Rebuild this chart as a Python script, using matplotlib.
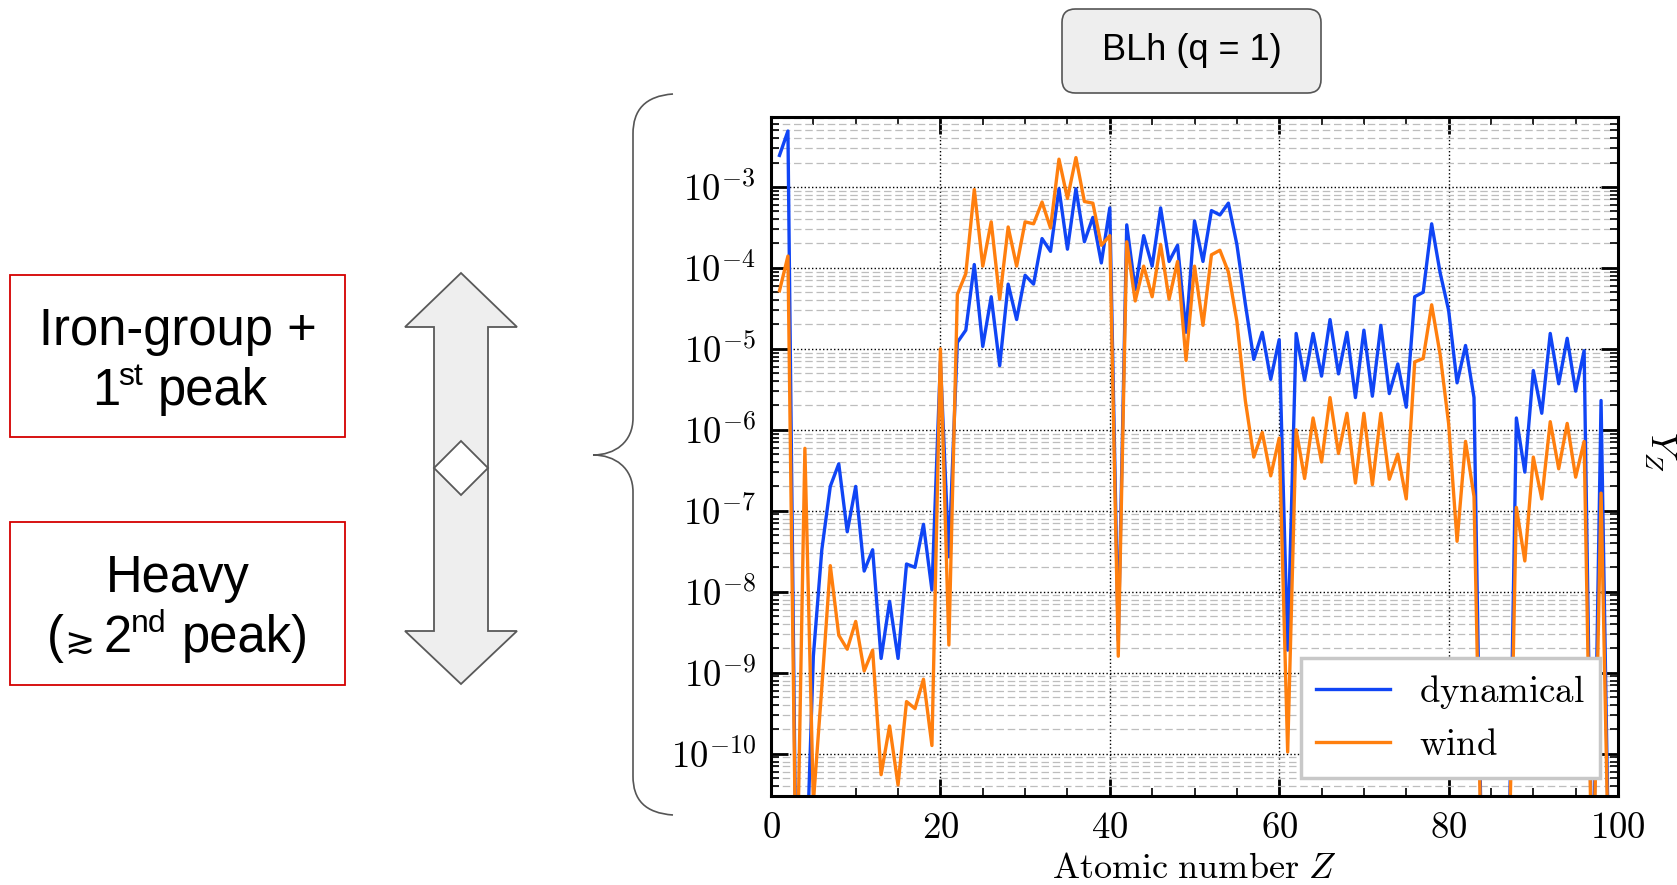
import numpy as np
import matplotlib
matplotlib.use("Agg")
import matplotlib.pyplot as plt
from matplotlib.patches import FancyBboxPatch, Polygon, Rectangle, PathPatch
from matplotlib.path import Path
from matplotlib.ticker import MultipleLocator, LogLocator, FuncFormatter, NullFormatter

plt.rcParams['mathtext.fontset'] = 'cm'

# atomic number and yields
Z = np.arange(1, 100)
dynamical = [
    2.45e-3, 4.9e-3, 1e-12, 1e-12, 1.6e-9, 3.3e-8, 2.0e-7, 3.8e-7, 5.5e-8, 2.0e-7,
    1.8e-8, 3.3e-8, 1.5e-9, 7.6e-9, 1.5e-9, 2.2e-8, 2.0e-8, 6.8e-8, 1.05e-8, 7e-6,
    2.7e-8, 1.2e-5, 1.7e-5, 1.1e-4, 1.07e-5, 4.4e-5, 6.2e-6, 6.3e-5, 2.3e-5, 8.1e-5,
    6.3e-5, 2.3e-4, 1.6e-4, 9.5e-4, 1.7e-4, 9.5e-4, 2.1e-4, 4.2e-4, 1.15e-4, 5.5e-4,
    2.5e-9, 3.4e-4, 5.4e-5, 2.5e-4, 1.05e-4, 5.5e-4, 1.2e-4, 1.9e-4, 1.6e-5, 3.8e-4,
    1.2e-4, 5.1e-4, 4.5e-4, 6.3e-4, 1.95e-4, 3.6e-5, 7.4e-6, 1.6e-5, 4.2e-6, 1.3e-5,
    1.9e-9, 1.55e-5, 4.1e-6, 1.55e-5, 4.6e-6, 2.3e-5, 4.9e-6, 1.6e-5, 2.5e-6, 1.7e-5,
    2.6e-6, 1.95e-5, 2.8e-6, 6.5e-6, 1.9e-6, 4.4e-5, 5.0e-5, 3.5e-4, 8.7e-5, 3.0e-5,
    3.8e-6, 1.1e-5, 2.5e-6, 1e-12, 1e-12, 1e-12, 1e-12, 1.4e-6, 3.0e-7, 5.4e-6,
    1.6e-6, 1.55e-5, 3.7e-6, 1.35e-5, 3.0e-6, 9.5e-6, 1e-12, 2.3e-6, 1e-12,
]
wind = [
    5.2e-5, 1.4e-4, 1e-12, 5.9e-7, 2.5e-11, 6.6e-10, 2.1e-8, 2.9e-9, 1.95e-9, 4.3e-9,
    1.05e-9, 1.9e-9, 5.5e-11, 2.2e-10, 4.1e-11, 4.4e-10, 3.6e-10, 8.3e-10, 1.26e-10, 1.0e-5,
    2.2e-9, 4.7e-5, 8.5e-5, 9.3e-4, 1.05e-4, 3.7e-4, 4.1e-5, 3.2e-4, 1.05e-4, 3.7e-4,
    3.5e-4, 6.5e-4, 3.1e-4, 2.2e-3, 7.2e-4, 2.3e-3, 6.6e-4, 6.3e-4, 1.9e-4, 2.5e-4,
    1.6e-9, 2.1e-4, 3.9e-5, 1.05e-4, 4.4e-5, 1.95e-4, 4.1e-5, 1.2e-4, 7.2e-6, 1.05e-4,
    1.95e-5, 1.45e-4, 1.65e-4, 8.9e-5, 2.2e-5, 2.3e-6, 4.6e-7, 9.3e-7, 2.7e-7, 7.9e-7,
    1.05e-10, 1.0e-6, 2.5e-7, 1.4e-6, 4.0e-7, 2.5e-6, 5.1e-7, 1.6e-6, 2.2e-7, 1.6e-6,
    2.1e-7, 1.6e-6, 2.45e-7, 5.0e-7, 1.4e-7, 6.9e-6, 7.6e-6, 3.5e-5, 8.5e-6, 1.2e-6,
    4.2e-8, 7.2e-7, 1.5e-7, 1e-12, 1e-12, 1e-12, 1e-12, 1.1e-7, 2.4e-8, 4.6e-7,
    1.4e-7, 1.26e-6, 3.3e-7, 1.2e-6, 2.6e-7, 7.2e-7, 1e-12, 1.65e-7, 1e-12,
]
series_labels = ['dynamical', 'wind']
series_colors = ['#1045f5', '#ff7f0e']
panel_title = 'BLh (q = 1)'

W, H = 1677, 885
SANS = ['Liberation Sans', 'DejaVu Sans']


def fx(x):
    return x / W


def fy(y):
    return 1 - y / H


fig = plt.figure(figsize=(W / 100, H / 100), dpi=100)
ax = fig.add_axes([fx(771), fy(796), (1618 - 771) / W, (796 - 117) / H])

for vals, lab, col in zip([dynamical, wind], series_labels, series_colors):
    ax.plot(Z, vals, color=col, lw=2.4, label=r'$\mathrm{%s}$' % lab)

ax.set_yscale('log')
ax.set_xlim(0, 100)
ax.set_ylim(3e-11, 7.3e-3)
ax.xaxis.set_major_locator(MultipleLocator(20))
ax.xaxis.set_minor_locator(MultipleLocator(5))
ax.yaxis.set_major_locator(LogLocator(base=10, numticks=20))
ax.yaxis.set_minor_locator(LogLocator(base=10, subs=np.arange(2, 10), numticks=20))
ax.yaxis.set_minor_formatter(NullFormatter())
ax.yaxis.set_major_formatter(FuncFormatter(lambda v, p: r'$10^{%d}$' % round(np.log10(v))))
ax.xaxis.set_major_formatter(FuncFormatter(lambda v, p: r'$%d$' % v))
ax.tick_params(which='both', direction='in', top=True, right=True, labelsize=26.5)
ax.tick_params(which='major', length=12, width=2)
ax.tick_params(which='minor', length=6, width=1.2)
ax.tick_params(axis='x', pad=9)
ax.tick_params(axis='y', pad=11)
for s in ax.spines.values():
    s.set_linewidth(2.2)

ax.grid(which='major', color='k', linestyle=':', linewidth=1.0)
ax.yaxis.grid(which='minor', color='#bdbdbd', linestyle=(0, (6, 3)), linewidth=0.9)
ax.set_axisbelow(True)

ax.set_xlabel(r'$\mathrm{Atomic\ number}\ Z$', fontsize=26, labelpad=4)
fig.text(fx(1660), fy(452), r'$Y_Z$', rotation=270, fontsize=26, ha='center', va='center')

leg = ax.legend(loc='lower right', fontsize=26.5, fancybox=False, framealpha=1,
                edgecolor='#c8c8c8', handlelength=2.0, handletextpad=0.8,
                borderaxespad=0.5, borderpad=0.4, labelspacing=0.4)
leg.get_frame().set_linewidth(2.5)

# panel title box
fig.add_artist(FancyBboxPatch((fx(1062), fy(93)), (1321 - 1062) / W, (93 - 9) / H,
                              boxstyle='round,pad=0,rounding_size=0.008', mutation_aspect=W / H,
                              transform=fig.transFigure, facecolor='#eeeeee',
                              edgecolor='#555555', lw=1.2))
fig.text(fx(1192), fy(51), panel_title, family=SANS, fontsize=26, ha='center', va='center')

# curly brace
brace = Path([(fx(673), fy(94)), (fx(645), fy(96)), (fx(633), fy(110)), (fx(633), fy(134)),
              (fx(633), fy(418)),
              (fx(633), fy(442)), (fx(615), fy(455)), (fx(593), fy(455)),
              (fx(615), fy(455)), (fx(633), fy(468)), (fx(633), fy(492)),
              (fx(633), fy(776)),
              (fx(633), fy(800)), (fx(645), fy(813)), (fx(673), fy(815))],
             [Path.MOVETO, Path.CURVE4, Path.CURVE4, Path.CURVE4, Path.LINETO,
              Path.CURVE4, Path.CURVE4, Path.CURVE4, Path.CURVE4, Path.CURVE4, Path.CURVE4,
              Path.LINETO, Path.CURVE4, Path.CURVE4, Path.CURVE4])
fig.add_artist(PathPatch(brace, transform=fig.transFigure, fill=False, edgecolor='#555555', lw=1.2))

# double arrow with diamond
arrow_pts = [(461, 273), (517, 327), (488, 327), (488, 631), (517, 631), (461, 684),
             (405, 631), (434, 631), (434, 327), (405, 327)]
fig.add_artist(Polygon([(fx(x), fy(y)) for x, y in arrow_pts], closed=True,
                       transform=fig.transFigure, facecolor='#eeeeee', edgecolor='#595959', lw=1.3))
diamond_pts = [(461, 441), (488, 468), (461, 495), (434, 468)]
fig.add_artist(Polygon([(fx(x), fy(y)) for x, y in diamond_pts], closed=True,
                       transform=fig.transFigure, facecolor='white', edgecolor='#595959', lw=1.3))

# red label boxes
for top, bot in [(275, 437), (522, 685)]:
    fig.add_artist(Rectangle((fx(10), fy(bot)), (345 - 10) / W, (bot - top) / H,
                             transform=fig.transFigure, facecolor='white',
                             edgecolor='#d40000', lw=1.3))

big, small = 36.5, 23
fig.text(fx(178), fy(345), 'Iron-group +', family=SANS, fontsize=big, ha='center', va='baseline')
fig.text(fx(92), fy(405), '1', family=SANS, fontsize=big, va='baseline')
fig.text(fx(118), fy(385), 'st', family=SANS, fontsize=small, va='baseline')
fig.text(fx(158), fy(405), 'peak', family=SANS, fontsize=big, va='baseline')
fig.text(fx(178), fy(592), 'Heavy', family=SANS, fontsize=big, ha='center', va='baseline')
fig.text(fx(47), fy(652), '(', family=SANS, fontsize=big, va='baseline')
fig.text(fx(64), fy(654), '\u2273', family=['DejaVu Sans'], fontsize=26, va='baseline')
fig.text(fx(104), fy(652), '2', family=SANS, fontsize=big, va='baseline')
fig.text(fx(131), fy(632), 'nd', family=SANS, fontsize=small, va='baseline')
fig.text(fx(182), fy(652), 'peak)', family=SANS, fontsize=big, va='baseline')

fig.savefig('out.png', dpi=100)
